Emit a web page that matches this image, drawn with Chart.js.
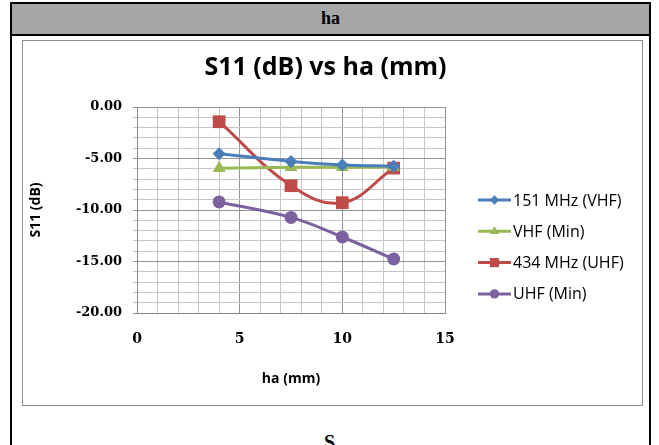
<!DOCTYPE html>
<html>
<head>
<meta charset="utf-8">
<script src="https://cdn.jsdelivr.net/npm/chart.js@4/dist/chart.umd.min.js"></script>
<style>
  html, body { margin: 0; padding: 0; background: #ffffff; width: 659px; height: 445px; overflow: hidden; }
  #outer { position: absolute; left: 10px; top: 2px; width: 641px; height: 470px; border: 2px solid #000; box-sizing: border-box; }
  #header { position: absolute; left: 0; top: 0; right: 0; height: 30px; background: #a6a6a6; border-bottom: 2px solid #000;
            font: bold 18px "Liberation Serif", serif; color: #000; text-align: center; line-height: 29px; }
  #frame { position: absolute; left: 22px; top: 40px; width: 621px; height: 366px; border: 1px solid #8c8c8c; box-sizing: border-box; background: #fff; }
  #frame canvas { position: absolute; left: 0; top: 0; }
  #caption { position: absolute; left: 0; width: 659px; top: 432px; text-align: center; font: bold 20px/20px "Liberation Serif", serif; color: #000; }
</style>
</head>
<body>
<div id="outer"><div id="header">ha</div></div>
<div id="frame"><canvas id="c" width="619" height="364"></canvas></div>
<div id="caption">S</div>
<script>
// ha (mm) sample positions
const haValues = [4, 7.5, 10, 12.5];

// S11 (dB) per series
const s11Vhf151 = [-4.53, -5.28, -5.62, -5.75];
const s11VhfMin = [-5.95, -5.86, -5.86, -5.82];
const s11Uhf434 = [-1.43, -7.64, -9.29, -5.93];
const s11UhfMin = [-9.22, -10.72, -12.62, -14.76];

// Labelled axis ticks
const xMajorTicks = [0, 5, 10, 15];
const yMajorTicks = [0, -5, -10, -15, -20];

const seriesNames = ['151 MHz (VHF)', 'VHF (Min)', '434 MHz (UHF)', 'UHF (Min)'];
const seriesColors = ['#4a7ebb', '#98b954', '#be4b48', '#7d60a0'];
const seriesStyles = ['rectRot', 'triangle', 'rect', 'circle'];
const seriesRadius = [6.5, 7.5, 9, 6.5];
const seriesValues = [s11Vhf151, s11VhfMin, s11Uhf434, s11UhfMin];

const toPoints = vals => haValues.map((x, i) => ({ x: x, y: vals[i] }));

const datasets = seriesNames.map((name, i) => ({
  label: name,
  data: toPoints(seriesValues[i]),
  borderColor: seriesColors[i],
  backgroundColor: seriesColors[i],
  borderWidth: 3,
  tension: 0.4,
  pointStyle: seriesStyles[i],
  pointRadius: seriesRadius[i],
  pointHoverRadius: seriesRadius[i],
  pointBorderWidth: 0,
  fill: false,
  yAxisID: 'y'
}));

// Side legend: line segment with the marker in its middle
const lineLegend = {
  id: 'lineLegend',
  afterDraw(chart) {
    const ctx = chart.ctx;
    const x0 = 455, x1 = 488, top = 159, gap = 31.3;
    ctx.save();
    chart.data.datasets.forEach((ds, i) => {
      const y = top + i * gap;
      ctx.strokeStyle = ds.borderColor;
      ctx.lineWidth = 3;
      ctx.beginPath();
      ctx.moveTo(x0, y);
      ctx.lineTo(x1, y);
      ctx.stroke();
      ctx.fillStyle = ds.backgroundColor;
      ctx.strokeStyle = ds.backgroundColor;
      Chart.helpers.drawPoint(ctx, { pointStyle: ds.pointStyle, radius: ds.pointRadius * 0.72, borderWidth: 0, rotation: 0 }, (x0 + x1) / 2, y);
      ctx.fillStyle = '#000';
      ctx.font = '16px "Open Sans", Lato, sans-serif';
      ctx.textBaseline = 'middle';
      ctx.textAlign = 'left';
      ctx.fillText(ds.label, x1 + 2, y + 1);
    });
    ctx.restore();
  }
};

const gridColor = ctx => (ctx.tick && Math.abs(ctx.tick.value) % 5 === 0) ? '#949494' : '#c6c6c6';

new Chart(document.getElementById('c'), {
  type: 'line',
  data: { datasets },
  plugins: [lineLegend],
  options: {
    responsive: false,
    animation: false,
    events: [],
    layout: { padding: { left: 0, right: 14, top: 0, bottom: 0 } },
    plugins: {
      legend: { display: false },
      tooltip: { enabled: false },
      title: {
        display: true,
        text: 'S11 (dB) vs ha (mm)',
        color: '#000',
        font: { family: '"Open Sans", Lato, sans-serif', size: 25, weight: 'bold', lineHeight: 1.2 },
        padding: { top: 12, bottom: 24 }
      }
    },
    scales: {
      x: {
        type: 'linear',
        min: 0, max: 15,
        afterFit: s => { s.height = 92; },
        grid: { color: gridColor, drawTicks: false, lineWidth: 1 },
        border: { color: '#868686' },
        ticks: {
          stepSize: 1,
          autoSkip: false,
          maxRotation: 0,
          padding: 18,
          color: '#000',
          font: { family: '"DejaVu Serif", serif', size: 14, weight: 'bold' },
          callback: v => xMajorTicks.includes(v) ? String(v) : ''
        },
        title: {
          display: true,
          text: 'ha (mm)',
          color: '#000',
          font: { family: '"Open Sans", Lato, sans-serif', size: 14, weight: 'bold', lineHeight: 1.2 },
          padding: { top: 0, bottom: 18 }
        }
      },
      y: {
        type: 'linear',
        position: 'left',
        min: -20, max: 0,
        afterFit: s => { s.width = 114; },
        grid: { color: gridColor, drawTicks: true, tickLength: 4, lineWidth: 1 },
        border: { color: '#868686' },
        ticks: {
          stepSize: 1,
          autoSkip: false,
          padding: 11,
          color: '#000',
          font: { family: '"DejaVu Serif", serif', size: 13, weight: 'bold' },
          callback: v => yMajorTicks.includes(v) ? v.toFixed(2) : ''
        },
        title: {
          display: true,
          text: 'S11 (dB)',
          color: '#000',
          font: { family: '"Open Sans", Lato, sans-serif', size: 14, weight: 'bold', lineHeight: 1.2 },
          padding: { top: 5, bottom: 0 }
        }
      },
      // empty right-hand band that holds the side legend
      legendBand: {
        type: 'linear',
        position: 'right',
        min: -20, max: 0,
        afterFit: s => { s.width = 183; },
        grid: { display: false, drawOnChartArea: false, drawTicks: false },
        border: { display: false },
        ticks: { display: false }
      }
    }
  }
});
</script>
</body>
</html>
